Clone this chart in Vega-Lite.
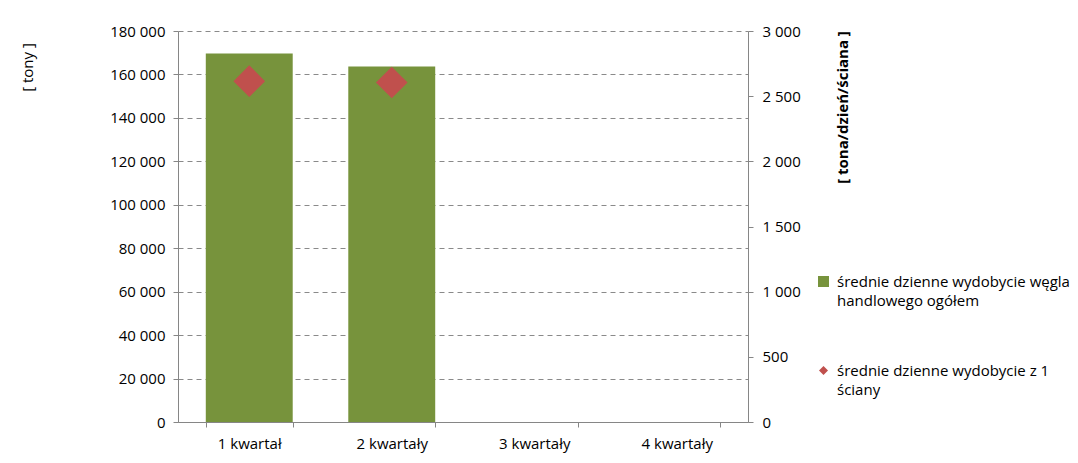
{
  "$schema": "https://vega.github.io/schema/vega-lite/v6.json",
  "autosize": {"type": "none"},
  "padding": {"left": 178, "top": 31, "right": 330, "bottom": 41},
  "width": 570,
  "height": 391,
  "background": "white",
  "config": {
    "locale": {"number": {"decimal": ",", "thousands": " ", "grouping": [3], "currency": ["", " zł"]}},
    "font": "Open Sans",
    "view": {"stroke": null},
    "style": {"guide-label": {"lineHeight": 19, "dy": 5}},
    "axis": {"labelFont": "Open Sans", "labelFontSize": 15, "labelColor": "#000", "domainColor": "#868686", "tickColor": "#868686", "tickSize": 5, "titleFont": "Open Sans", "titleFontSize": 14, "titleColor": "#000"},
    "legend": {"labelFont": "Open Sans", "labelFontSize": 15, "labelColor": "#000", "padding": 0, "labelLimit": 400}
  },
  "data": {"values": [
    {"kwartal": "1 kwartał", "tony": 169600, "sciana": 2615},
    {"kwartal": "2 kwartały", "tony": 163700, "sciana": 2605},
    {"kwartal": "3 kwartały", "tony": null, "sciana": null},
    {"kwartal": "4 kwartały", "tony": null, "sciana": null}
  ]},
  "encoding": {
    "x": {"field": "kwartal", "type": "nominal", "sort": null,
      "scale": {"domain": ["1 kwartał", "2 kwartały", "3 kwartały", "4 kwartały"], "paddingInner": 0.39, "paddingOuter": 0.195},
      "axis": {"title": null, "labelAngle": 0, "tickBand": "extent", "labelPadding": 4, "grid": false}}
  },
  "layer": [
    {
      "mark": {"type": "bar", "color": "#77933C"},
      "encoding": {
        "y": {"field": "tony", "type": "quantitative", "scale": {"domain": [0, 180000], "nice": false},
          "axis": {"values": [0, 20000, 40000, 60000, 80000, 100000, 120000, 140000, 160000, 180000], "format": ",d", "labelPadding": 8, "labelOffset": -5,
            "grid": true, "gridColor": "#8a8a8a", "gridDash": [5, 4], "gridWidth": 1,
            "title": "[ tony ]", "titleAngle": -90, "titleX": -151, "titleY": 36, "titleAlign": "center", "titleBaseline": "middle", "titleFontWeight": "normal", "titleFontSize": 15}},
        "color": {"datum": "średnie dzienne wydobycie węgla handlowego ogółem", "type": "nominal",
          "scale": {"range": ["#77933C"]},
          "legend": {"orient": "none", "legendX": 638, "legendY": 243, "title": null, "symbolType": "square", "symbolSize": 121, "labelOffset": 6, "labelBaseline": "alphabetic",
            "labelExpr": "['średnie dzienne wydobycie węgla', 'handlowego ogółem']"}}
      }
    },
    {
      "mark": {"type": "point", "shape": "diamond", "filled": true, "color": "#C0504D", "opacity": 1, "size": 1000},
      "encoding": {
        "y": {"field": "sciana", "type": "quantitative", "scale": {"domain": [0, 3000], "nice": false},
          "axis": {"orient": "right", "values": [0, 500, 1000, 1500, 2000, 2500, 3000], "format": ",d", "labelPadding": 9, "labelOffset": -5, "grid": false,
            "title": "[ tona/dzień/ściana ]", "titleAngle": -90, "titleX": 94, "titleY": 76, "titleAlign": "center", "titleBaseline": "middle", "titleFontWeight": "bold", "titleFontSize": 15}},
        "shape": {"datum": "średnie dzienne wydobycie z 1 ściany", "type": "nominal",
          "scale": {"range": ["diamond"]},
          "legend": {"orient": "none", "legendX": 638, "legendY": 332, "title": null, "symbolSize": 81, "symbolFillColor": "#C0504D", "symbolStrokeWidth": 0, "labelOffset": 6, "labelBaseline": "alphabetic",
            "labelExpr": "['średnie dzienne wydobycie z 1', 'ściany']"}}
      }
    }
  ],
  "resolve": {"scale": {"y": "independent"}}
}
